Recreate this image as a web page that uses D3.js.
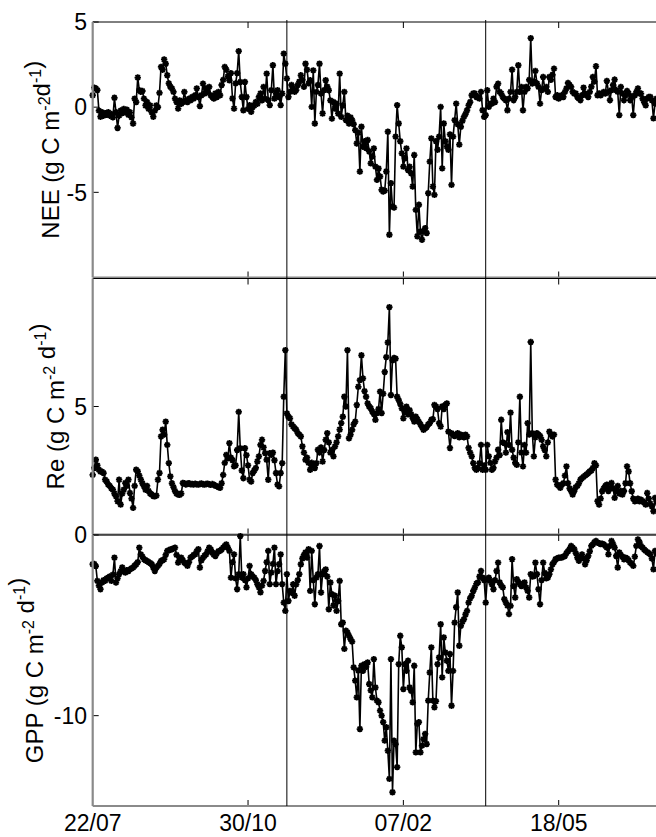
<!DOCTYPE html>
<html>
<head>
<meta charset="utf-8">
<script src="https://cdn.jsdelivr.net/npm/d3@7"></script>
<style>
  body { margin: 0; background: #fff; }
  svg { display: block; font-family: "Liberation Sans", Arial, sans-serif; }
</style>
</head>
<body>
<div id="chart"></div>
<script>
// daily series, day 0 = 22/07
const startDate = "2006-07-22";
const xTickDates = ["2006-07-22", "2006-10-30", "2007-02-07", "2007-05-18"];
const xTickLabels = ["22/07", "30/10", "07/02", "18/05"];
const eventDates = ["2006-11-24", "2007-04-01"];

const neeTicks = [-5, 0, 5];
const reTicks = [5];
const gppTicks = [-10, 0];

const neeValues = [
  0.7, 1.15, 1.1, 1.0, -0.2, -0.56, -0.3, -0.5, -0.35, -0.45,
  -0.3, -0.5, -0.4, -0.6, 0.55, -0.3, -1.22, -0.5, -0.2, -0.35,
  -0.1, -0.3, -0.15, -0.45, -0.3, -0.6, -0.96, 0.5, 0.3, 1.74,
  1.0, 0.9, 0.95, 0.5, 0.1, 0.3, -0.1, 0.1, -0.3, -0.56,
  -0.2, 0.1, 0.0, 0.84, 2.36, 2.2, 2.8, 2.55, 1.87, 1.4,
  1.2, 1.1, 0.9, 0.5, 0.3, -0.08, 0.4, 0.2, 0.3, 0.9,
  0.4, 0.3, 0.5, 0.4, 0.6, 0.5, 0.7, 1.1, 0.6, 0.06,
  0.7, 1.38, 0.8, 1.1, 0.9, 1.19, 0.7, 0.6, 0.5, 0.8,
  0.6, 0.9, 0.7, 1.3, 1.6, 2.36, 2.2, 1.8, 1.57, 2.0,
  0.51, -0.08, 1.4, 2.0, 3.29, 1.48, 0.6, -0.18, 1.48, 0.6,
  -0.1, 0.12, -0.27, 0.0, 0.1, 0.3, 0.2, 0.6, 0.8, 0.4,
  1.19, 0.5, 1.97, 0.41, 0.12, 1.0, 2.46, 0.5, 0.8, 1.0,
  0.6, 0.12, 0.8, 3.14, 2.55, 1.68, 0.6, 0.9, 1.3, 1.1,
  0.9, 1.0, 1.3, 1.5, 1.87, 1.6, 1.2, 2.55, 2.2, 1.4,
  1.58, 0.02, 2.16, -0.96, 0.9, 1.3, 2.55, 0.8, -0.37, 1.0,
  1.58, 1.2, 0.99, 0.4, -0.67, 0.3, -0.08, 0.2, -0.37, 1.97,
  -0.57, 0.1, 0.9, -0.76, -0.5, -0.96, -0.6, -0.76, -1.0, -1.35,
  -2.13, -1.5, -3.78, -1.15, -2.32, -2.0, -2.4, -1.93, -2.6, -3.3,
  -2.9, -2.42, -3.49, -4.27, -3.6, -4.07, -4.85, -4.95, -4.9, -3.78,
  -1.44, -7.49, -4.46, -5.83, -5.9, -1.73, 0.12, -0.96, -2.0, -2.71,
  -3.49, -3.0, -2.42, -3.69, -3.5, -3.88, -4.66, -2.81, -6.03, -7.58,
  -5.73, -7.3, -7.78, -7.29, -7.1, -7.39, -5.05, -3.2, -1.83, -4.66,
  -5.15, -2.0, -2.5, -1.73, 0.02, -3.59, -0.96, -2.0, -2.32, -2.5,
  -1.6, -4.56, -1.73, -0.76, 0.21, -1.0, -2.2, -1.15, -0.8, -0.57,
  -0.4, -0.18, 0.1, 0.3, 0.7, 0.8, 0.8, 0.6, 0.6, 0.5,
  0.9, -0.18, -0.57, -0.47, 0.99, 0.02, 0.2, 0.21, 0.5, 0.3,
  1.2, 1.38, 0.9, 0.8, 0.6, 0.5, 0.4, -0.18, 0.5, 0.9,
  2.2, 0.41, 0.6, 0.9, 2.46, 0.9, 1.19, -0.18, 0.9, 1.19,
  1.1, 1.6, 4.05, 1.38, 1.5, 2.13, 1.4, 1.19, 0.21, 1.0,
  1.77, 1.1, 1.19, 0.9, 1.77, 1.6, 1.9, 2.26, 0.6, 0.7,
  0.5, 0.6, 0.7, 0.6, 0.9, 1.1, 1.42, 1.3, 1.19, 0.9,
  0.8, 0.8, 0.6, 0.5, 0.41, 0.7, 1.15, 0.8, 0.7, 0.6,
  0.9, 1.2, 1.77, 1.5, 2.4, 0.7, 0.8, 0.7, 0.8, 0.9,
  0.8, 1.54, 0.9, 0.41, 1.0, 1.3, 1.62, 1.0, 0.9, -0.47,
  1.19, 0.8, 0.41, 0.7, 0.95, 0.8, 0.41, 0.6, -0.47, 0.7,
  0.9, 1.1, 0.8, 0.8, 0.5, 0.3, 0.11, 0.5, 0.6, 0.6,
  0.4, -0.66, 0.21, 0.5, 0.4, 0.3
];

const reValues = [
  2.33, 2.6, 2.92, 2.7, 2.53, 2.46, 2.45, 2.4, 2.14, 2.07,
  1.95, 1.9, 1.8, 1.75, 1.6, 1.49, 1.3, 2.14, 1.17, 1.6,
  1.75, 2.01, 1.9, 2.14, 1.62, 1.4, 1.04, 1.9, 2.53, 2.46,
  2.3, 2.14, 2.0, 1.88, 1.75, 1.9, 1.7, 1.6, 1.56, 1.5,
  1.49, 1.52, 2.14, 2.4, 3.83, 4.09, 3.9, 4.41, 3.5, 2.79,
  2.27, 2.0, 1.85, 1.7, 1.6, 1.56, 1.55, 1.6, 2.01, 2.0,
  1.95, 1.98, 2.0, 1.96, 1.97, 1.95, 1.98, 1.96, 1.95, 1.97,
  1.99, 1.96, 1.95, 1.97, 1.98, 1.96, 1.94, 1.97, 1.95, 1.9,
  1.88, 1.85, 1.82, 2.0, 2.33, 2.8, 3.11, 2.98, 3.57, 3.0,
  2.9, 2.66, 2.7, 3.3, 4.79, 3.37, 2.5, 2.2, 3.37, 3.1,
  2.7, 2.14, 2.07, 2.4, 2.5, 2.6, 2.85, 3.05, 3.5, 3.7,
  3.4, 3.18, 2.92, 2.14, 3.18, 3.11, 3.2, 2.9, 2.4, 1.95,
  1.88, 2.4, 2.79, 5.38, 7.2, 4.73, 4.6, 4.54, 4.3, 4.22,
  4.15, 4.09, 3.96, 3.9, 3.83, 3.44, 3.2, 2.92, 3.0, 2.8,
  2.53, 2.8, 2.7, 2.6, 2.79, 3.31, 3.2, 3.4, 2.85, 3.3,
  3.7, 3.96, 3.6, 3.2, 3.3, 3.05, 3.44, 3.6, 3.83, 4.1,
  4.35, 4.6, 5.38, 5.0, 7.2, 3.76, 3.9, 4.09, 4.3, 4.41,
  5.06, 5.77, 6.03, 7.0, 6.1, 5.6, 5.38, 5.12, 5.0, 4.93,
  4.8, 4.7, 4.48, 4.74, 4.9, 5.58, 4.74, 5.5, 6.35, 6.93,
  7.5, 8.88, 5.45, 6.8, 6.9, 6.87, 5.38, 5.25, 5.1, 4.93,
  4.54, 4.8, 4.99, 4.7, 4.86, 4.7, 4.55, 4.41, 4.6, 4.5,
  4.4, 4.3, 4.2, 4.09, 4.15, 4.2, 4.3, 4.35, 4.48, 4.5,
  5.06, 5.0, 4.9, 4.35, 4.22, 5.0, 4.9, 5.06, 5.12, 4.02,
  3.38, 3.96, 3.9, 3.85, 3.9, 3.96, 3.8, 3.9, 3.85, 3.8,
  3.9, 3.83, 3.38, 3.2, 3.05, 2.79, 2.6, 2.53, 2.6, 2.79,
  3.5, 2.53, 2.7, 2.53, 3.5, 3.05, 2.8, 2.53, 2.6, 2.85,
  3.0, 3.31, 3.1, 4.48, 3.6, 3.57, 3.2, 4.0, 3.5, 4.76,
  3.31, 3.0, 2.8, 2.72, 3.6, 5.38, 3.2, 2.66, 3.5, 3.2,
  4.35, 3.9, 7.52, 3.96, 3.05, 3.8, 3.96, 3.9, 3.85, 3.7,
  3.44, 3.3, 3.05, 3.6, 4.02, 3.9, 3.83, 3.9, 2.14, 1.95,
  1.9, 1.82, 1.95, 2.0, 2.3, 2.66, 2.0, 1.8, 1.7, 1.56,
  1.7, 1.85, 1.9, 2.0, 2.14, 2.2, 2.25, 2.3, 2.35, 2.4,
  2.46, 2.5, 2.6, 2.79, 2.7, 1.3, 1.17, 1.4, 1.69, 1.8,
  1.9, 1.95, 1.7, 1.8, 2.01, 1.8, 1.43, 1.7, 1.9, 1.6,
  1.7, 1.56, 1.7, 2.0, 2.66, 2.46, 2.0, 1.69, 1.4, 1.3,
  1.35, 1.4, 1.3, 1.36, 1.3, 1.25, 1.17, 1.62, 1.4, 1.2,
  1.1, 0.91, 1.43, 1.3, 1.2, 1.25
];

const gppValues = [
  -1.62, -1.6, -1.72, -2.54, -2.8, -3.0, -2.63, -2.5, -2.54, -2.4,
  -2.36, -2.3, -2.54, -2.2, -1.25, -2.63, -2.4, -2.17, -2.0, -1.8,
  -2.0, -2.08, -1.95, -2.0, -1.9, -1.85, -1.8, -1.7, -1.62, -1.5,
  -0.7, -1.07, -1.2, -1.34, -1.4, -1.44, -1.5, -1.55, -1.62, -1.8,
  -1.99, -1.8, -1.71, -1.6, -1.44, -1.4, -1.34, -1.1, -0.88, -0.85,
  -0.8, -0.79, -0.75, -0.7, -1.1, -1.53, -1.4, -1.25, -1.4, -1.53,
  -1.6, -1.71, -1.5, -1.25, -1.2, -1.1, -1.07, -0.9, -0.79, -1.8,
  -1.4, -1.25, -1.15, -1.07, -0.9, -0.7, -0.8, -0.97, -1.1, -1.16,
  -1.0, -0.9, -0.88, -0.8, -0.7, -0.6, -0.52, -0.7, -0.88, -2.36,
  -1.5, -1.07, -2.4, -3.0, -2.17, -0.06, -2.36, -2.17, -2.5, -2.9,
  -2.4, -1.71, -2.17, -2.3, -2.36, -2.5, -2.72, -2.9, -3.17, -2.8,
  -2.54, -1.99, -1.5, -0.88, -2.72, -2.08, -1.6, -0.7, -2.72, -2.0,
  -1.62, -1.07, -2.72, -3.74, -4.2, -2.17, -3.65, -3.09, -3.2, -2.73,
  -3.36, -2.73, -2.5, -2.17, -1.62, -1.3, -1.1, -0.97, -1.25, -0.79,
  -3.09, -0.88, -2.5, -3.83, -2.36, -2.17, -0.61, -3.18, -2.17, -2.0,
  -1.9, -2.3, -4.11, -2.63, -3.27, -3.9, -3.36, -4.2, -3.65, -2.54,
  -4.94, -4.85, -6.3, -5.3, -5.4, -5.58, -5.76, -5.9, -7.33, -8.06,
  -8.99, -7.5, -10.74, -7.24, -7.52, -7.15, -7.3, -7.06, -8.25, -8.6,
  -8.99, -6.87, -8.44, -9.17, -9.26, -9.72, -10.0, -10.36, -11.38, -10.64,
  -11.94, -13.5, -6.87, -14.24, -11.38, -11.57, -12.85, -7.15, -5.58, -6.22,
  -8.53, -7.15, -7.52, -6.96, -8.44, -8.62, -9.26, -7.24, -12.03, -10.45,
  -10.36, -12.03, -11.66, -11.3, -11.01, -11.57, -9.17, -7.61, -6.22, -9.17,
  -9.54, -9.2, -7.15, -6.78, -4.94, -7.88, -5.67, -6.5, -6.96, -7.52,
  -6.59, -9.45, -7.52, -4.85, -4.0, -3.18, -6.13, -5.03, -4.8, -4.66,
  -4.4, -4.2, -3.74, -3.5, -3.36, -3.1, -2.91, -2.7, -2.63, -2.3,
  -1.99, -2.36, -2.5, -3.74, -2.45, -2.36, -2.54, -2.73, -3.0, -2.5,
  -1.99, -1.53, -2.63, -2.8, -2.9, -3.55, -3.74, -3.9, -4.38, -3.92,
  -1.34, -2.82, -3.46, -2.45, -2.6, -2.73, -2.82, -2.7, -2.63, -2.9,
  -3.09, -3.46, -2.17, -2.3, -2.27, -1.53, -2.17, -3.0, -3.83, -2.5,
  -1.53, -2.1, -2.4, -2.36, -2.17, -1.9, -1.62, -1.5, -1.34, -1.3,
  -1.25, -1.25, -1.25, -1.2, -1.16, -1.0, -0.9, -0.79, -0.61, -0.7,
  -0.79, -1.0, -1.25, -1.43, -1.2, -1.07, -1.3, -1.62, -1.4, -1.16,
  -0.9, -0.6, -0.52, -0.4, -0.33, -0.43, -0.45, -0.5, -0.48, -0.52,
  -0.6, -0.7, -1.07, -0.6, -0.33, -0.5, -0.7, -1.16, -1.8, -0.97,
  -1.1, -1.2, -1.34, -1.25, -1.3, -1.4, -1.53, -1.6, -1.71, -1.2,
  -0.6, -0.24, -0.4, -0.61, -0.7, -0.8, -0.88, -0.95, -1.0, -1.07,
  -1.3, -1.9, -0.88, -1.0, -1.1, -1.05
];

document.addEventListener('DOMContentLoaded', () => {
  try {
    const width = 656;
    const height = 837;
    const left = 92.7;
    const gray = "#8a8a8a";

    const svg = d3.select("#chart")
      .append("svg")
      .attr("width", width)
      .attr("height", height);

    const parse = d3.utcParse("%Y-%m-%d");
    const t0 = parse(startDate);
    const dates = neeValues.map((d, i) => d3.utcDay.offset(t0, i));
    const tickDates = xTickDates.map(parse);

    // 300 days between first and last tick label
    const x = d3.scaleUtc()
      .domain([tickDates[0], tickDates[3]])
      .range([left, 558.7]);

    const panels = [
      { values: neeValues, domain: [-10, 5], top: 22, bottom: 277.5, ticks: neeTicks, labelX: 59,
        label: [["NEE (g C m", 0], ["-2", 1], ["d", 0], ["-1", 1], [")", 0]] },
      { values: reValues, domain: [0, 10], top: 278.5, bottom: 534.5, ticks: reTicks, labelX: 64,
        label: [["Re (g C m", 0], ["-2", 1], [" d", 0], ["-1", 1], [")", 0]] },
      { values: gppValues, domain: [-15, 0], top: 535, bottom: 806, ticks: gppTicks, labelX: 43,
        label: [["GPP (g C m", 0], ["-2", 1], [" d", 0], ["-1", 1], [")", 0]] }
    ];

    // MATLAB style '*' marker
    const r = 3.2;
    const a = r * 0.72;
    const star = `M${-r},0L${r},0M0,${-r}L0,${r}M${-a},${-a}L${a},${a}M${-a},${a}L${a},${-a}`;

    panels.forEach(p => {
      const y = d3.scaleLinear().domain(p.domain).range([p.bottom, p.top]);
      const g = svg.append("g");

      const line = d3.line()
        .x((d, i) => x(dates[i]))
        .y(d => y(d));

      g.append("path")
        .datum(p.values)
        .attr("fill", "none")
        .attr("stroke", "#000")
        .attr("stroke-width", 1.6)
        .attr("d", line);

      g.append("g")
        .selectAll("path")
        .data(p.values)
        .enter()
        .append("path")
        .attr("transform", (d, i) => `translate(${x(dates[i])},${y(d)})`)
        .attr("d", star)
        .attr("fill", "none")
        .attr("stroke", "#000")
        .attr("stroke-width", 1.8);

      // box: top black, left/bottom gray
      g.append("line")
        .attr("x1", left).attr("x2", width + 5)
        .attr("y1", p.top).attr("y2", p.top)
        .attr("stroke", "#000").attr("stroke-width", 1);

      // x ticks top and bottom, inward
      tickDates.slice(1).forEach(t => {
        g.append("line")
          .attr("x1", x(t)).attr("x2", x(t))
          .attr("y1", p.top).attr("y2", p.top + 6)
          .attr("stroke", "#000").attr("stroke-width", 1);
        g.append("line")
          .attr("x1", x(t)).attr("x2", x(t))
          .attr("y1", p.bottom).attr("y2", p.bottom - 6)
          .attr("stroke", "#000").attr("stroke-width", 1);
      });

      // y ticks and labels
      p.ticks.forEach(v => {
        g.append("line")
          .attr("x1", left).attr("x2", left + 6)
          .attr("y1", y(v)).attr("y2", y(v))
          .attr("stroke", "#000").attr("stroke-width", 1);
        g.append("text")
          .attr("x", 87)
          .attr("y", y(v))
          .attr("dy", "0.36em")
          .attr("text-anchor", "end")
          .attr("font-size", 23)
          .attr("fill", "#000")
          .text(v);
      });

      g.append("line")
        .attr("x1", left).attr("x2", width + 5)
        .attr("y1", p.bottom).attr("y2", p.bottom)
        .attr("stroke", gray).attr("stroke-width", 2.2);
      g.append("line")
        .attr("x1", left).attr("x2", left)
        .attr("y1", p.top).attr("y2", p.bottom)
        .attr("stroke", gray).attr("stroke-width", 2.2);

      // axis title with superscripts
      const title = g.append("text")
        .attr("transform", `translate(${p.labelX},${(p.top + p.bottom) / 2}) rotate(-90)`)
        .attr("text-anchor", "middle")
        .attr("font-size", 24)
        .attr("fill", "#000");
      p.label.forEach(([txt, sup]) => {
        title.append("tspan")
          .attr("font-size", sup ? 16 : 24)
          .attr("dy", sup ? -9 : 0)
          .text(txt);
        if (sup) title.append("tspan").attr("dy", 9).text("");
      });
    });

    // event lines across all panels
    eventDates.map(parse).forEach(t => {
      svg.append("line")
        .attr("x1", x(t)).attr("x2", x(t))
        .attr("y1", 20).attr("y2", 806)
        .attr("stroke", "#000")
        .attr("stroke-width", 1);
    });

    // x tick labels under the bottom panel
    svg.append("g")
      .selectAll("text")
      .data(tickDates)
      .enter()
      .append("text")
      .attr("x", d => x(d))
      .attr("y", 831)
      .attr("text-anchor", "middle")
      .attr("font-size", 23)
      .attr("fill", "#000")
      .text((d, i) => xTickLabels[i]);

  } catch (error) {
    console.error("An error occurred:", error);
  }
});
</script>
</body>
</html>
